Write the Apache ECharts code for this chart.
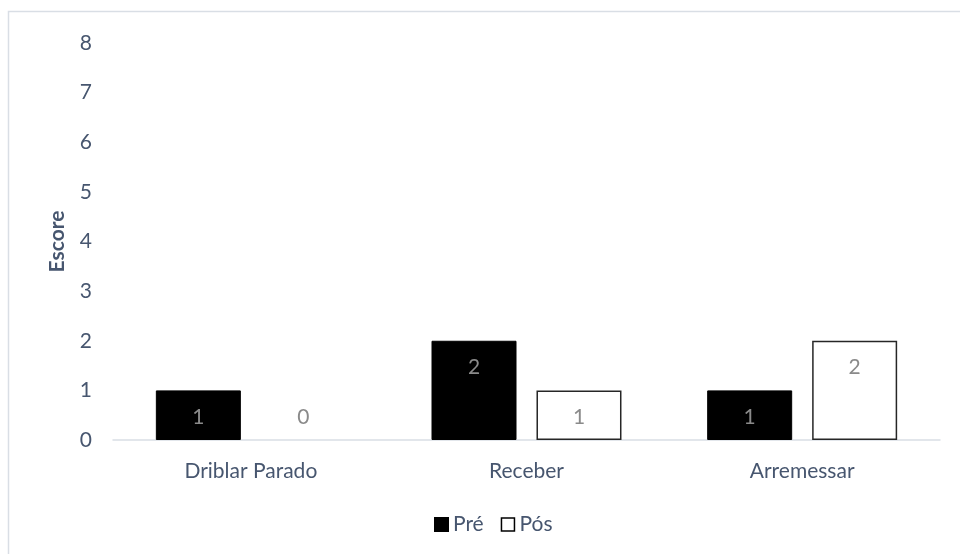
<!DOCTYPE html>
<html>
<head>
<meta charset="utf-8">
<script src="https://cdn.jsdelivr.net/npm/echarts@6/dist/echarts.min.js"></script>
<style>html,body{margin:0;padding:0;background:#fff}#c{width:960px;height:554px}</style>
</head>
<body>
<div id="c"></div>
<script>
const categories = ['Driblar Parado', 'Receber', 'Arremessar'];
const preValues = [1, 2, 1];
const posValues = [0, 1, 2];
const yTicks = [0, 1, 2, 3, 4, 5, 6, 7, 8];

const FONT = 'Lato';
const TXT = '#47566f';
const FS = 21;

function toData(arr) {
  return arr.map(v => v === 0
    ? { value: v, itemStyle: { borderWidth: 0 }, label: { position: 'top', distance: 12 } }
    : v);
}

const chart = echarts.init(document.getElementById('c'), null, { renderer: 'canvas' });
chart.setOption({
  animation: false,
  textStyle: { fontFamily: FONT },
  graphic: [{
    type: 'rect', silent: true,
    shape: { x: 8.5, y: 11.5, width: 1200, height: 1200 },
    style: { fill: 'none', stroke: '#d9dee5', lineWidth: 1.5 }
  }],
  grid: { left: 113, right: 20, top: 43, bottom: 114, containLabel: false },
  legend: {
    bottom: 14, left: 429,
    itemWidth: 13, itemHeight: 13, itemGap: 17,
    textStyle: { color: TXT, fontSize: FS, fontFamily: FONT },
    data: [
      { name: 'Pré', icon: 'rect' },
      { name: 'Pós', icon: 'rect', itemStyle: { color: '#fff', borderColor: '#000', borderWidth: 1.5 } }
    ]
  },
  xAxis: {
    type: 'category',
    data: categories,
    axisLine: { lineStyle: { color: '#d9dee5', width: 1.5 } },
    axisTick: { show: false },
    axisLabel: { color: TXT, fontSize: FS, margin: 21, fontFamily: FONT }
  },
  yAxis: {
    type: 'value',
    min: yTicks[0], max: yTicks[yTicks.length - 1], interval: 1,
    name: 'Escore',
    nameLocation: 'middle',
    nameGap: 45,
    nameTextStyle: { color: TXT, fontSize: FS, fontWeight: 'bold', fontFamily: FONT },
    axisLine: { show: false },
    axisTick: { show: false },
    splitLine: { show: false },
    axisLabel: { color: TXT, fontSize: FS, margin: 21, fontFamily: FONT }
  },
  series: [
    {
      name: 'Pré', type: 'bar', data: toData(preValues),
      barWidth: 85, barGap: '23.5%',
      itemStyle: { color: '#000', borderColor: '#000', borderWidth: 1 },
      label: { show: true, position: 'insideTop', distance: 16, color: '#8a8a8a', fontSize: FS, fontFamily: FONT }
    },
    {
      name: 'Pós', type: 'bar', data: toData(posValues),
      barWidth: 85,
      itemStyle: { color: '#fff', borderColor: '#262626', borderWidth: 1.5 },
      label: { show: true, position: 'insideTop', distance: 16, color: '#8a8a8a', fontSize: FS, fontFamily: FONT }
    }
  ]
});
</script>
</body>
</html>
